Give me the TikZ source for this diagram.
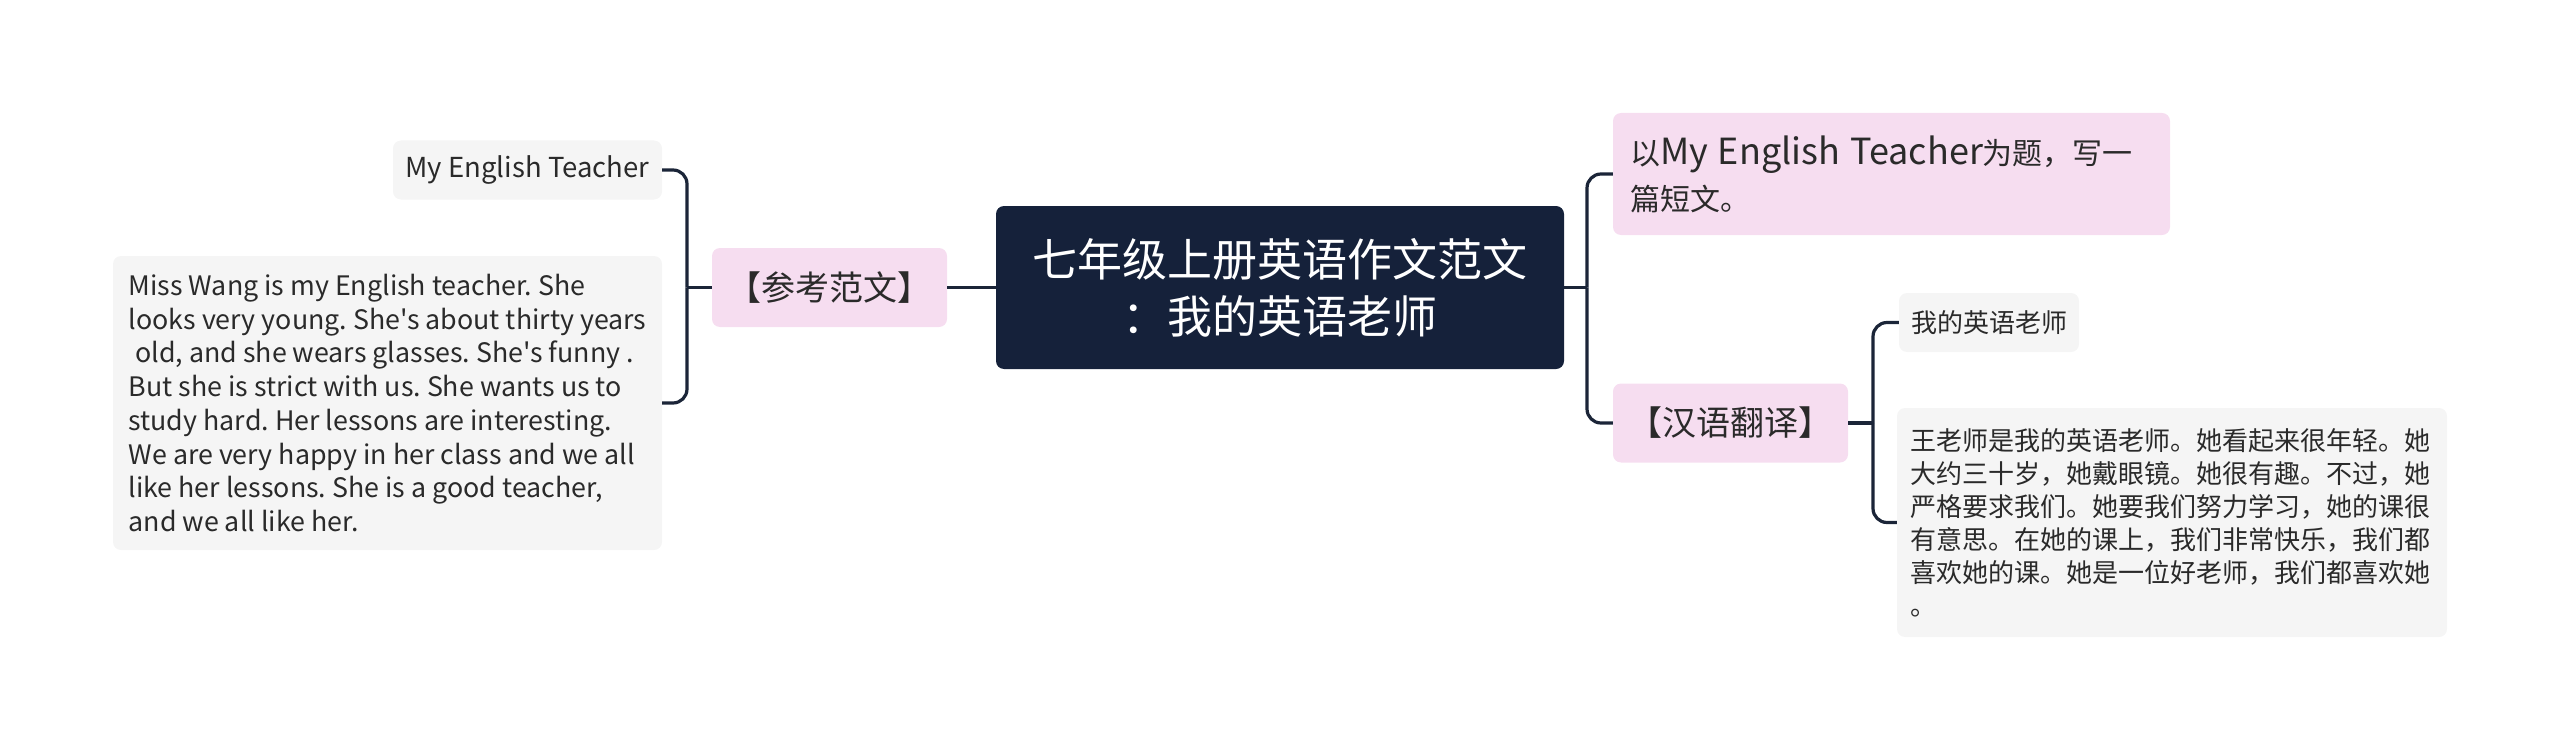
\documentclass[tikz,border=0pt]{standalone}
\usepackage{fontspec}
\setmainfont{Noto Sans CJK SC}
\newfontfamily\plainfont{Noto Sans CJK SC}
\usetikzlibrary{calc}
\definecolor{rootnavy}{HTML}{15213A}
\definecolor{linenavy}{HTML}{1B2538}
\definecolor{nodepink}{HTML}{F6DDF0}
\definecolor{nodegrey}{HTML}{F5F5F5}
\definecolor{textdark}{HTML}{2A2A2A}
\frenchspacing

\begin{document}
\begin{tikzpicture}[x=1pt,y=-1pt,
  conn/.style={draw=linenavy,line width=3.2pt},
  rootbox/.style={fill=rootnavy,text=white,rounded corners=8pt,inner sep=0pt,align=center},
  pinkbox/.style={fill=nodepink,text=textdark,rounded corners=8pt,inner sep=0pt},
  greybox/.style={fill=nodegrey,text=textdark,rounded corners=8pt,inner sep=0pt}]
  \useasboundingbox (0,0) rectangle (2560,749);
  % centre and first level
  \node[rootbox,minimum width=568pt,minimum height=163pt,text width=568pt,
    font=\fontsize{45}{57}\selectfont] (root) at (1280,287.5)
    {七年级上册英语作文范文\\：我的英语老师};
  \node[pinkbox,minimum width=235pt,minimum height=79pt,
    font=\fontsize{34}{40}\selectfont] (ckfw) at (829.5,287.5) {【参考范文】};
  \node[pinkbox,minimum width=557pt,minimum height=122pt,text width=523pt,inner xsep=17pt,
    align=left,font=\fontsize{30}{46}\selectfont] (topic) at (1891.5,174)
    {以{\fontsize{36}{46}\selectfont My English Teacher}为题，写一\\篇短文。};
  \node[pinkbox,minimum width=235pt,minimum height=79pt,
    font=\fontsize{34}{40}\selectfont] (hyfy) at (1730.5,423) {【汉语翻译】};
  % leaves
  \node[greybox,minimum width=269pt,minimum height=59pt,
    font=\fontsize{27.5}{34}\selectfont] (title) at (527.5,170) {My English Teacher};
  \node[greybox,minimum width=549pt,minimum height=294pt,inner xsep=13pt,
    align=left,font=\plainfont\fontsize{26.8}{33.7}\selectfont] (essay) at (387.5,403)
    {Miss Wang is my English teacher. She\\
     looks very young. She's about thirty years\\
     \hspace*{.25em}old, and she wears glasses. She's funny .\\
     But she is strict with us. She wants us to\\
     study hard. Her lessons are interesting.\\
     We are very happy in her class and we all\\
     like her lessons. She is a good teacher,\\
     and we all like her.};
  \node[greybox,minimum width=180pt,minimum height=59pt,
    font=\fontsize{26}{34}\selectfont] (wdls) at (1989,322.5) {我的英语老师};
  \node[greybox,minimum width=550pt,minimum height=229pt,text width=524pt,inner xsep=13pt,
    align=left,font=\fontsize{26}{33}\selectfont] (yiwen) at (2172,522.5)
    {王老师是我的英语老师。她看起来很年轻。她\\
     大约三十岁，她戴眼镜。她很有趣。不过，她\\
     严格要求我们。她要我们努力学习，她的课很\\
     有意思。在她的课上，我们非常快乐，我们都\\
     喜欢她的课。她是一位好老师，我们都喜欢她\\
     。};
  % connectors
  \coordinate (lj) at (687,287.5);
  \coordinate (rj) at (1587,287.5);
  \coordinate (hj) at (1873,423);
  \draw[conn] (root.west) -- (ckfw.east);
  \draw[conn] (ckfw.west) -- (lj);
  \draw[conn] (root.east) -- (rj);
  \draw[conn] (hyfy.east) -- (hj);
  \foreach \n in {title,essay} \draw[conn,rounded corners=14pt] (lj) |- (\n.east);
  \foreach \n in {topic,hyfy} \draw[conn,rounded corners=14pt] (rj) |- (\n.west);
  \foreach \n in {wdls,yiwen} \draw[conn,rounded corners=14pt] (hj) |- (\n.west);
\end{tikzpicture}
\end{document}
